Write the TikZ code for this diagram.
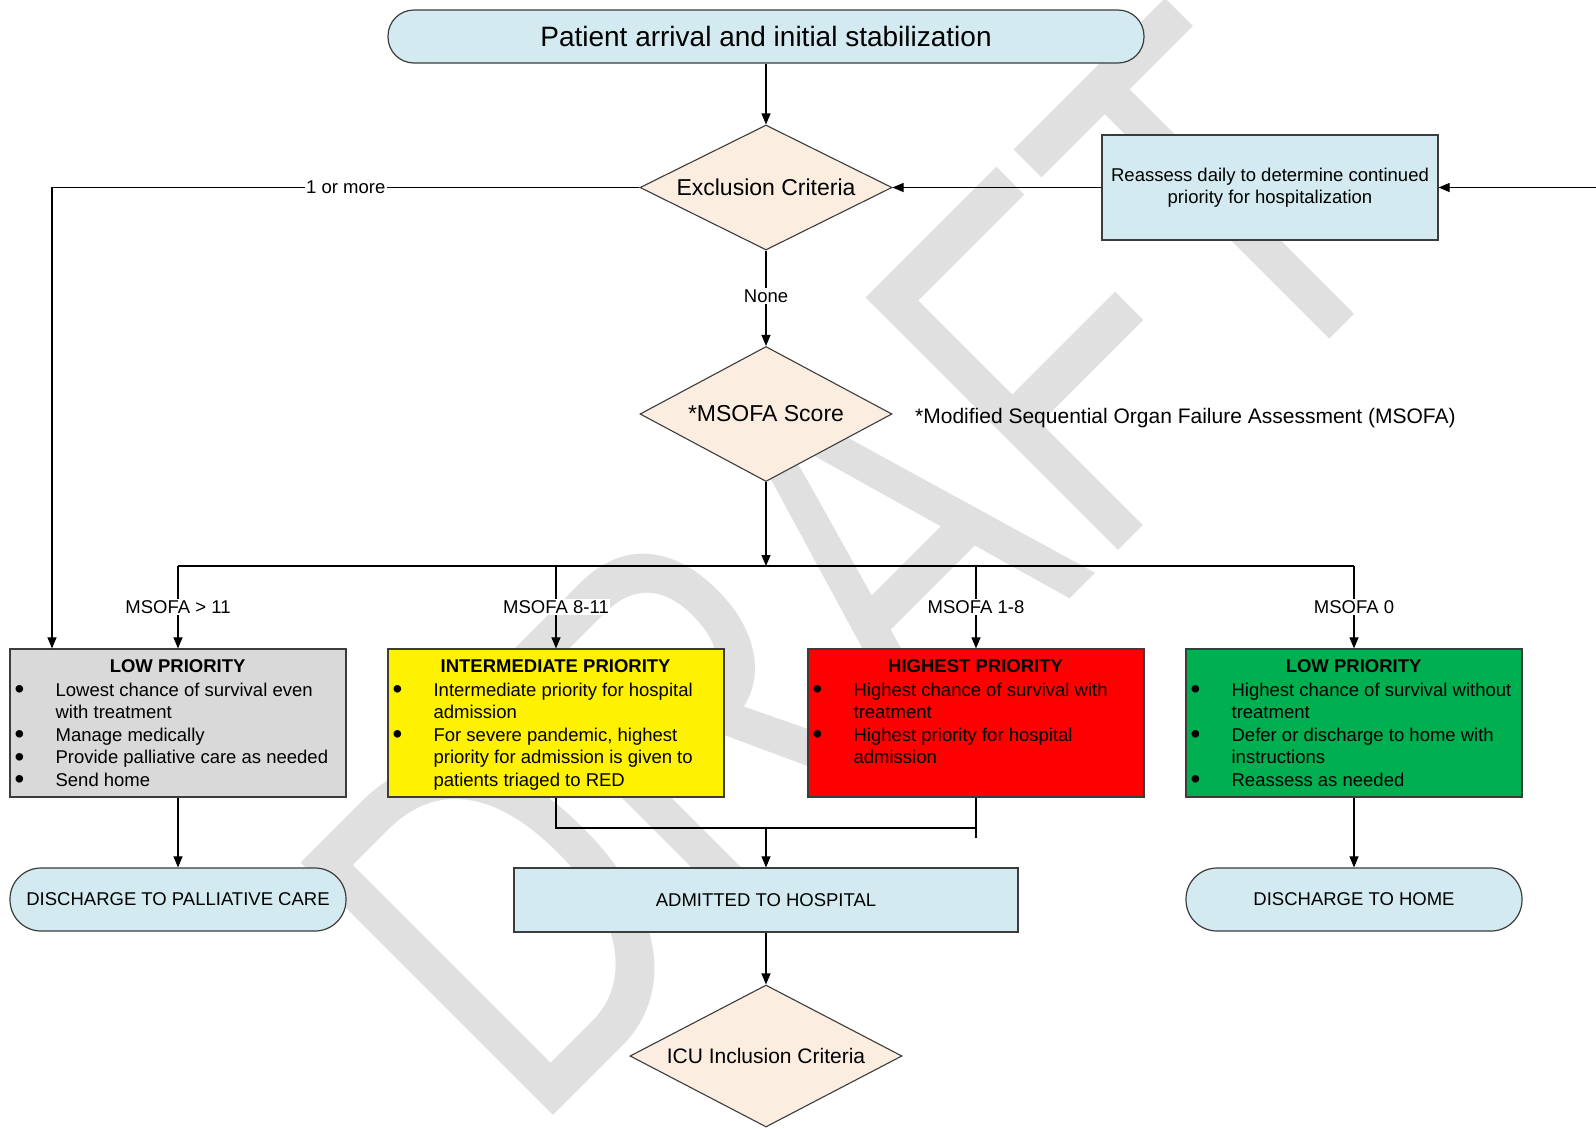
\documentclass[tikz,border=0pt]{standalone}
\usepackage{fontspec}
\setmainfont{Liberation Sans}
\usetikzlibrary{arrows.meta,shapes.geometric}
\definecolor{lblue}{RGB}{210,234,240}
\definecolor{peach}{RGB}{252,237,225}
\definecolor{pgray}{RGB}{217,217,217}
\definecolor{pgreen}{RGB}{0,176,80}
\definecolor{edgec}{RGB}{60,60,60}
\definecolor{wmark}{RGB}{224,224,224}
\newcommand{\pitem}[1]{\par\hangindent=46pt\hangafter=1\noindent\makebox[46pt][l]{\hspace{5pt}\raisebox{-2.5pt}{\scalebox{1.5}{\textbullet}}}#1}
\newcommand{\ptitle}[1]{\noindent\makebox[336pt][c]{\bfseries #1}\par\vspace{1.5pt}}
\newcommand{\pcontent}[1]{\parbox[t]{350pt}{\raggedright #1}}
\begin{document}
\begin{tikzpicture}[x=1pt,y=-1pt,
  every node/.style={font=\fontsize{18.5}{22.4}\selectfont},
  term/.style={draw=edgec, line width=1.2pt, fill=lblue, inner sep=0pt},
  proc/.style={draw=edgec, line width=1.2pt, fill=lblue, inner sep=0pt},
  dia/.style={diamond, aspect=2, draw=edgec, line width=1.1pt, fill=peach, inner sep=0pt},
  pbox/.style={draw=edgec, line width=1.2pt, minimum width=336pt, minimum height=148pt, inner sep=0pt},
  ptext/.style={anchor=north west, inner sep=0pt, yshift=-11pt},
  arr/.style={-{Triangle[length=11pt,width=9pt]}, line width=1.1pt},
  ln/.style={line width=1.1pt},
  lbl/.style={fill=white, inner sep=1.5pt}]
\useasboundingbox (0,0) rectangle (1596,1128);
\fill[white] (0,0) rectangle (1596,1128);
% watermark
\begin{scope}
\clip (0,0) rectangle (1596,1128);
\node[rotate=45, anchor=base west, inner sep=0pt, text=wmark, font=\fontsize{519}{519}\selectfont] (wm) at (531,1138) {\scalebox{0.73}[1]{DRAFT}};
\end{scope}
% nodes
\node[term, rounded corners=26pt, minimum width=756pt, minimum height=53pt, font=\fontsize{28}{32}\selectfont] (start) at (766,36.5) {Patient arrival and initial stabilization};
\node[dia, minimum width=252pt, minimum height=125pt, font=\fontsize{23}{27}\selectfont] (excl) at (766,187.5) {Exclusion Criteria};
\node[proc, minimum width=336pt, minimum height=105pt, align=center] (re) at (1270,187.5) {Reassess daily to determine continued\\priority for hospitalization};
\coordinate (rin) at (1596,187.5);
\node[dia, minimum width=252pt, minimum height=135pt, font=\fontsize{23}{27}\selectfont] (msofa) at (766,414) {*MSOFA Score};
\node[anchor=west, inner sep=0pt, font=\fontsize{21}{25}\selectfont] (fn) at (915,418) {*Modified Sequential Organ Failure Assessment (MSOFA)};
\coordinate (bus) at (766,566);
\coordinate (lc) at (52,187.5);
% priority boxes
\node[pbox, fill=pgray] (b1) at (178,723) {};
\node[pbox, fill=yellow] (b2) at (556,723) {};
\node[pbox, fill=red] (b3) at (976,723) {};
\node[pbox, fill=pgreen] (b4) at (1354,723) {};
\node[ptext] (t1) at (b1.north west) {\pcontent{\ptitle{LOW PRIORITY}\pitem{Lowest chance of survival even\newline with treatment}\pitem{Manage medically}\pitem{Provide palliative care as needed}\pitem{Send home}}};
\node[ptext] (t2) at (b2.north west) {\pcontent{\ptitle{INTERMEDIATE PRIORITY}\pitem{Intermediate priority for hospital\newline admission}\pitem{For severe pandemic, highest\newline priority for admission is given to\newline patients triaged to RED}}};
\node[ptext] (t3) at (b3.north west) {\pcontent{\ptitle{HIGHEST PRIORITY}\pitem{Highest chance of survival with\newline treatment}\pitem{Highest priority for hospital\newline admission}}};
\node[ptext] (t4) at (b4.north west) {\pcontent{\ptitle{LOW PRIORITY}\pitem{Highest chance of survival without\newline treatment}\pitem{Defer or discharge to home with\newline instructions}\pitem{Reassess as needed}}};
% outcomes
\node[term, rounded corners=31pt, minimum width=336pt, minimum height=63pt] (pall) at (178,899.5) {DISCHARGE TO PALLIATIVE CARE};
\node[proc, minimum width=504pt, minimum height=64pt] (adm) at (766,900) {ADMITTED TO HOSPITAL};
\node[term, rounded corners=31pt, minimum width=336pt, minimum height=63pt] (home) at (1354,899.5) {DISCHARGE TO HOME};
\node[dia, minimum width=272pt, minimum height=142pt, font=\fontsize{21}{25}\selectfont] (icu) at (766,1056) {ICU Inclusion Criteria};
\coordinate (m) at (766,828);
% connectors
\draw[arr] (start) -- (excl);
\draw[arr] (rin) -- (re.east);
\draw[arr] (re.west) -- (excl.east);
\draw[arr] (excl.west) -- node[lbl, midway] {1 or more} (lc) -- (lc |- b1.north);
\draw[arr] (excl.south) -- node[lbl, pos=0.48] {None} (msofa.north);
\draw[arr] (msofa.south) -- (bus);
\draw[ln] (b1.north |- bus) -- (b4.north |- bus);
\draw[arr] (b1.north |- bus) -- node[lbl, midway] {MSOFA > 11} (b1.north);
\draw[arr] (b2.north |- bus) -- node[lbl, midway] {MSOFA 8-11} (b2.north);
\draw[arr] (b3.north |- bus) -- node[lbl, midway] {MSOFA 1-8} (b3.north);
\draw[arr] (b4.north |- bus) -- node[lbl, midway] {MSOFA 0} (b4.north);
\draw[arr] (b1.south) -- (pall.north);
\draw[arr] (b4.south) -- (home.north);
\draw[ln] (b2.south) |- (m) -- (b3.south |- m);
\draw[ln] (b3.south) -- ++(0,40);
\draw[arr] (m) -- (adm.north);
\draw[arr] (adm.south) -- (icu.north);
\end{tikzpicture}
\end{document}
